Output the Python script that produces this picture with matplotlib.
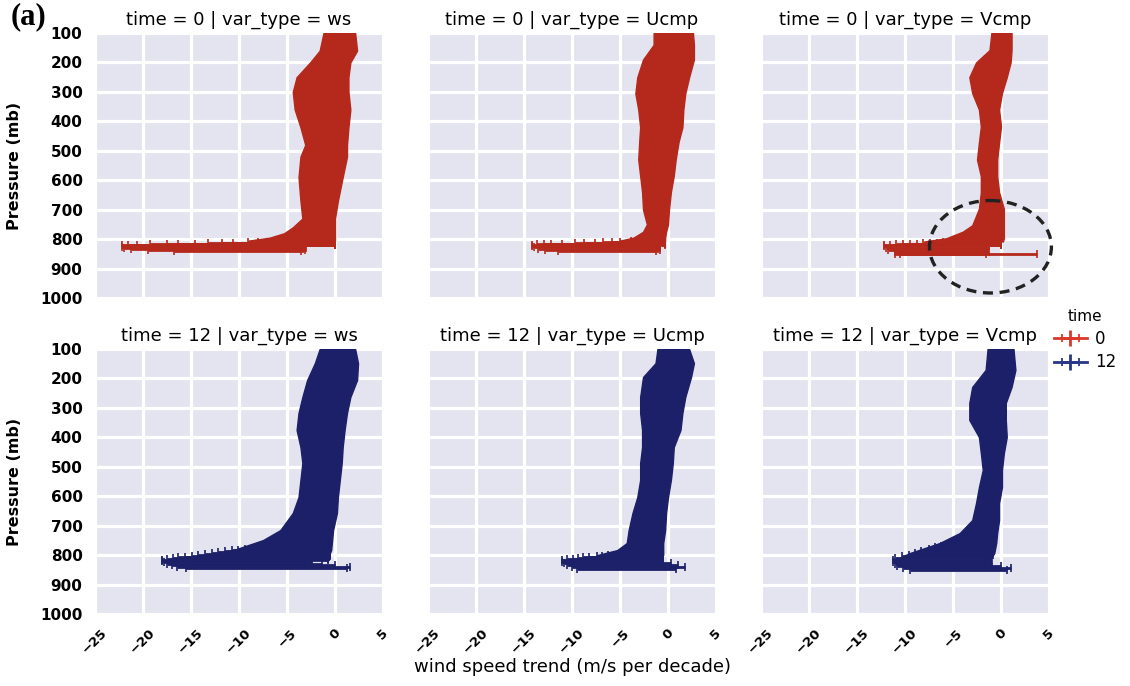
import matplotlib
matplotlib.use("Agg")
import matplotlib.pyplot as plt
import numpy as np
from matplotlib.patches import Ellipse
from matplotlib.lines import Line2D
from matplotlib.collections import LineCollection
from matplotlib.container import ErrorbarContainer

plt.rcParams['font.family'] = ['DejaVu Sans']

# ---------------- data ----------------
times = [0, 12]
var_types = ["ws", "Ucmp", "Vcmp"]
x_ticks = [-25, -20, -15, -10, -5, 0, 5]
p_ticks = [100, 200, 300, 400, 500, 600, 700, 800, 900, 1000]

# time 0, ws : body envelope (pressure, left edge, right edge)
t0_ws_p = [100, 160, 200, 250, 300, 360, 420, 480, 520, 590, 670, 730, 760, 780, 795, 805]
t0_ws_lo = [-1.2, -1.6, -2.6, -4.0, -4.4, -4.2, -3.6, -3.1, -3.6, -3.8, -3.6, -3.4, -4.4, -5.3, -6.8, -9.0]
t0_ws_hi = [2.1, 2.3, 1.6, 1.4, 1.4, 1.6, 1.4, 1.25, 1.25, 0.8, 0.3, 0.0, 0.0, 0.0, 0.0, 0.0]
# near-surface error bars
t0_ws_fp = [806, 807, 808, 809, 810, 811, 812, 813, 814, 815, 816, 817, 818, 819, 820, 821,
            826, 830, 834, 838, 842]
t0_ws_flo = [-5.0, -5.7, -6.3, -7.0, -8.0, -9.1, -10.6, -11.8, -13.2, -14.6, -16.4, -17.5, -19.3, -20.6, -21.6, -22.2,
             -22.2, -22.0, -21.2, -19.5, -16.8]
t0_ws_fhi = [0.0, 0.0, 0.0, 0.0, 0.0, 0.0, 0.0, 0.0, 0.0, 0.0, 0.0, 0.0, 0.0, 0.0, 0.0, 0.0,
             -3.1, -3.0, -3.3, -3.1, -3.5]

# time 0, Ucmp
t0_u_p = [100, 140, 190, 250, 305, 360, 420, 470, 530, 585, 640, 700, 750, 775, 795, 805]
t0_u_lo = [-1.5, -1.5, -2.6, -3.2, -3.4, -3.1, -2.9, -3.0, -3.1, -2.9, -2.7, -2.6, -2.2, -2.6, -3.6, -5.0]
t0_u_hi = [2.6, 2.7, 2.7, 2.2, 1.8, 1.6, 1.5, 1.1, 0.8, 0.6, 0.3, 0.1, 0.0, -0.2, -0.3, -0.3]
t0_u_fp = [806, 807, 808, 809, 810, 811, 812, 813, 814, 815, 816, 817, 818, 819,
           823, 828, 833, 838, 842]
t0_u_flo = [-1.8, -2.9, -3.9, -5.0, -5.8, -6.8, -7.6, -8.7, -9.7, -11.0, -12.2, -12.9, -13.6, -14.2,
            -14.2, -14.0, -13.5, -12.8, -11.5]
t0_u_fhi = [-0.3, -0.3, -0.3, -0.3, -0.3, -0.3, -0.3, -0.3, -0.3, -0.3, -0.3, -0.3, -0.3, -0.3,
            -0.8, -0.8, -1.0, -0.8, -1.2]

# time 0, Vcmp
t0_v_p = [100, 158, 200, 250, 304, 360, 418, 472, 530, 586, 641, 697, 753, 775, 797, 808]
t0_v_lo = [-1.0, -1.2, -2.6, -3.3, -3.0, -2.3, -2.1, -2.3, -2.5, -2.1, -2.1, -2.3, -3.0, -4.0, -5.7, -8.0]
t0_v_hi = [1.1, 1.1, 1.0, 0.6, 0.1, -0.2, 0.0, -0.2, -0.4, -0.4, -0.2, 0.3, 0.3, 0.3, 0.3, 0.2]
t0_v_fp = [809, 810, 811, 812, 813, 814, 815, 816, 817, 818, 819, 820,
           825, 831, 837, 843, 849, 852]
t0_v_flo = [-4.6, -5.3, -6.0, -6.7, -7.4, -8.1, -8.8, -9.5, -10.2, -10.9, -11.6, -12.2,
            -12.2, -12.0, -11.8, -11.0, -10.5, -11.0]
t0_v_fhi = [0.0, 0.0, 0.0, 0.0, 0.0, 0.0, 0.0, 0.0, 0.0, 0.0, 0.0, 0.0,
            -1.3, -1.4, -1.5, -1.3, -1.6, 3.8]

# time 12, ws
t12_ws_p = [100, 148, 205, 263, 317, 375, 433, 487, 545, 603, 657, 715, 749, 783, 806]
t12_ws_lo = [-1.6, -2.1, -2.9, -3.4, -3.8, -4.0, -3.6, -3.4, -3.6, -3.8, -4.4, -5.7, -7.5, -10.6, -14.8]
t12_ws_hi = [2.1, 2.4, 2.3, 1.6, 1.25, 1.0, 0.8, 0.7, 0.5, 0.3, 0.2, -0.2, -0.3, -0.4, -0.7]
t12_ws_fp = [778, 781, 784, 787, 790, 793, 796, 799, 802, 805, 808, 811, 814, 817,
             820, 825, 830, 835, 840, 845]
t12_ws_flo = [-9.4, -10.1, -10.7, -11.5, -12.2, -12.8, -13.5, -14.3, -14.9, -15.6, -16.4, -16.9, -17.5, -18.0,
              -18.0, -17.8, -17.5, -17.0, -16.5, -15.5]
t12_ws_fhi = [-0.5, -0.5, -0.5, -0.5, -0.5, -0.5, -0.5, -0.5, -0.5, -0.6, -0.6, -0.7, -0.7, -0.7,
              -3.1, -2.4, -1.4, 0.0, 1.6, 1.2]

# time 12, Ucmp
t12_u_p = [100, 148, 195, 263, 317, 375, 433, 487, 545, 603, 657, 715, 759, 783, 800]
t12_u_lo = [-1.1, -1.3, -2.6, -2.9, -2.9, -2.7, -2.7, -2.9, -2.9, -3.2, -3.7, -4.1, -4.3, -5.3, -7.4]
t12_u_hi = [2.2, 2.7, 2.4, 1.8, 1.5, 1.3, 0.6, 0.5, 0.3, 0.0, -0.2, -0.3, -0.5, -0.5, -0.5]
t12_u_fp = [796, 798, 800, 802, 804, 806, 808, 810, 812, 814, 816,
            822, 828, 834, 840, 846]
t12_u_flo = [-4.8, -5.5, -6.3, -6.9, -7.4, -8.2, -8.9, -9.4, -9.9, -10.5, -11.0,
             -11.0, -10.8, -10.5, -10.0, -9.5]
t12_u_fhi = [-0.5, -0.5, -0.5, -0.5, -0.5, -0.5, -0.5, -0.5, -0.5, -0.5, -0.5,
             -0.5, 0.3, 1.0, 1.8, 0.8]

# time 12, Vcmp
t12_v_p = [100, 171, 229, 283, 341, 399, 453, 511, 569, 623, 681, 725, 759, 793, 808]
t12_v_lo = [-1.4, -1.6, -3.0, -3.3, -3.3, -2.3, -2.1, -1.9, -2.3, -2.6, -3.0, -4.3, -6.4, -9.5, -10.5]
t12_v_hi = [1.3, 1.5, 1.1, 0.5, 0.5, 0.6, 0.3, 0.1, 0.1, -0.2, -0.2, -0.4, -0.5, -0.7, -1.0]
t12_v_fp = [768, 774, 780, 786, 792, 798, 804, 810,
            816, 823, 830, 837, 844, 850]
t12_v_flo = [-6.2, -6.9, -7.5, -8.3, -9.0, -9.6, -10.3, -11.0,
             -11.2, -11.2, -11.0, -10.8, -10.2, -9.5]
t12_v_fhi = [-0.6, -0.6, -0.7, -0.7, -0.8, -0.8, -0.9, -1.0,
             -1.0, -1.0, -0.9, 0.0, 1.0, 0.6]

panels = {
    (0, "ws"): (t0_ws_p, t0_ws_lo, t0_ws_hi, t0_ws_fp, t0_ws_flo, t0_ws_fhi),
    (0, "Ucmp"): (t0_u_p, t0_u_lo, t0_u_hi, t0_u_fp, t0_u_flo, t0_u_fhi),
    (0, "Vcmp"): (t0_v_p, t0_v_lo, t0_v_hi, t0_v_fp, t0_v_flo, t0_v_fhi),
    (12, "ws"): (t12_ws_p, t12_ws_lo, t12_ws_hi, t12_ws_fp, t12_ws_flo, t12_ws_fhi),
    (12, "Ucmp"): (t12_u_p, t12_u_lo, t12_u_hi, t12_u_fp, t12_u_flo, t12_u_fhi),
    (12, "Vcmp"): (t12_v_p, t12_v_lo, t12_v_hi, t12_v_fp, t12_v_flo, t12_v_fhi),
}

# ---------------- style ----------------
colors = {0: "#B5291C", 12: "#1C2068"}
legend_colors = {0: "#D9382A", 12: "#2A3688"}
bg = "#E4E4F0"

W, H = 1130, 686
fig = plt.figure(figsize=(W / 100, H / 100), dpi=100)

col_left = [95, 428, 761]
ax_w = 288
row_top = [33, 349]
ax_h = 265

for r, t in enumerate(times):
    for c, v in enumerate(var_types):
        ax = fig.add_axes([col_left[c] / W, 1 - (row_top[r] + ax_h) / H, ax_w / W, ax_h / H])
        ax.set_facecolor(bg)
        for s in ax.spines.values():
            s.set_visible(False)
        ax.set_xlim(-25, 5)
        ax.set_ylim(1000, 100)
        ax.set_xticks(x_ticks)
        ax.set_yticks(p_ticks)
        ax.grid(True, color="white", lw=2.3)
        ax.set_axisbelow(True)
        ax.tick_params(length=0)
        ax.tick_params(axis="y", pad=9, labelsize=11)
        ax.tick_params(axis="x", pad=9, labelsize=9.5)
        for lab in ax.get_yticklabels():
            lab.set_fontweight("bold")
        for lab in ax.get_xticklabels():
            lab.set_fontweight("bold")
            lab.set_rotation(45)
        if r == 0:
            ax.tick_params(labelbottom=False)
        if c > 0:
            ax.tick_params(labelleft=False)
        else:
            ax.set_ylabel("Pressure (mb)", fontsize=11.5, fontweight="bold")
            ax.yaxis.set_label_coords(-0.255, 0.5)

        bp, blo, bhi, fp, flo, fhi = panels[(t, v)]
        col = colors[t]
        ax.fill_betweenx(bp, blo, bhi, color=col, lw=1.0, edgecolor=col, zorder=3)
        flo_a = np.array(flo)
        fhi_a = np.array(fhi)
        ax.errorbar((flo_a + fhi_a) / 2, fp, xerr=(fhi_a - flo_a) / 2, fmt="none",
                    ecolor=col, elinewidth=2.0, capsize=2.6, capthick=1.2, zorder=4)
        ax.set_title(f"time = {t} | var_type = {v}", fontsize=13, pad=6)

        if (t, v) == (0, "Vcmp"):
            ell = Ellipse((-1.1, 826), width=12.7, height=314, fill=False,
                          edgecolor="#222222", lw=2.4, linestyle=(0, (3, 2)),
                          clip_on=False, zorder=6)
            ax.add_patch(ell)

# axis label for x
fig.text(572 / W, 1 - 667 / H, "wind speed trend (m/s per decade)", ha="center", va="center", fontsize=13)

# panel tag
fig.text(11 / W, 1 - 2 / H, "(a)", ha="left", va="top", fontsize=22, fontweight="bold",
         family=["Liberation Serif", "DejaVu Serif"])

# legend
def proxy(color):
    line = Line2D([], [], color=color, lw=2, marker="|", markersize=12, markeredgewidth=2)
    cap = Line2D([], [], color=color, markersize=6, markeredgewidth=1.3)
    lcx = LineCollection([], colors=color, linewidths=2)
    return ErrorbarContainer((line, (cap,), (lcx,)), has_xerr=True, has_yerr=False)

handles = [proxy(legend_colors[t]) for t in times]
leg = fig.legend(handles, [str(t) for t in times], title="time", loc="center left",
                 bbox_to_anchor=(1052 / W, 1 - 340 / H), frameon=False, fontsize=12,
                 title_fontsize=11, handlelength=2.0, handletextpad=0.5, labelspacing=0.35,
                 borderaxespad=0, borderpad=0.1, numpoints=1)

fig.savefig("out.png", dpi=100)
